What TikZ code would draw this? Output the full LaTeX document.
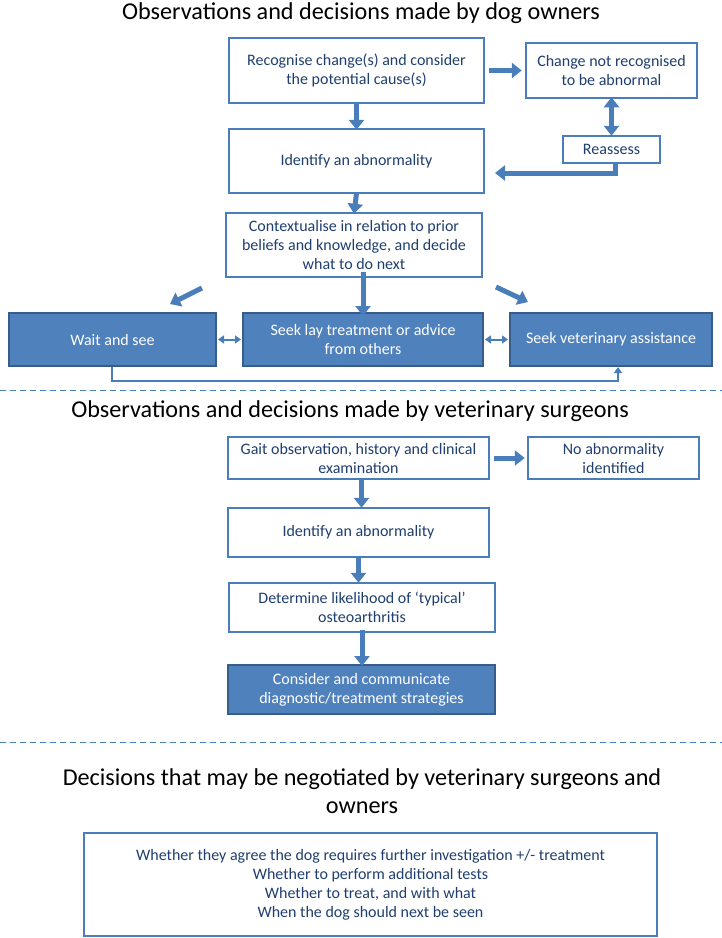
\documentclass[tikz,border=0pt]{standalone}
\usepackage{fontspec}
\setmainfont{Carlito}
\usetikzlibrary{arrows.meta}
\definecolor{bord}{HTML}{4A7EBB}
\definecolor{fillb}{HTML}{4F81BD}
\definecolor{dbord}{HTML}{385D8A}
\definecolor{txt}{HTML}{1F3F6F}
\begin{document}
\begin{tikzpicture}[x=1pt,y=-1pt,
  boxtext/.style={font=\fontsize{16}{19}\selectfont, align=center, inner sep=0pt},
  obox/.style={boxtext, draw=bord, line width=2.5pt, fill=white, text=txt},
  fbox/.style={boxtext, draw=dbord, line width=2pt, fill=fillb, text=white},
  title/.style={font=\fontsize{24.2}{29}\selectfont, text=black, align=center, inner sep=0pt},
  bigarrow/.style={draw=bord, line width=5pt, -{Triangle[width=15pt,length=10pt]}},
  bigdouble/.style={draw=bord, line width=5pt, {Triangle[width=15pt,length=10pt]}-{Triangle[width=15pt,length=10pt]}},
  thindouble/.style={draw=bord, line width=2pt, {Triangle[width=8pt,length=6pt]}-{Triangle[width=8pt,length=6pt]}},
  thinarrow/.style={draw=bord, line width=2pt, -{Triangle[width=8pt,length=6pt]}},
  sep/.style={draw=bord, line width=1pt, dash pattern=on 6pt off 4pt}
]
\useasboundingbox (0,0) rectangle (722,938);

% titles
\node[title, anchor=base] (t1) at (361,19) {Observations and decisions made by dog owners};
\node[title, anchor=base] (t2) at (350,417) {Observations and decisions made by veterinary surgeons};
\node[title, anchor=base] (t3a) at (362,785) {Decisions that may be negotiated by veterinary surgeons and};
\node[title, anchor=base] (t3b) at (362,813) {owners};

% owners section
\node[obox, minimum width=255, minimum height=65] (A) at (356.5,70.5) {Recognise change(s) and consider\\the potential cause(s)};
\node[obox, minimum width=171, minimum height=55] (B) at (611.5,70.5) {Change not recognised\\to be abnormal};
\node[obox, minimum width=97, minimum height=27] (R) at (611.5,149.5) {Reassess};
\node[obox, minimum width=255, minimum height=64] (C) at (356.5,161) {Identify an abnormality};
\node[obox, minimum width=256, minimum height=64] (D) at (354,245) {Contextualise in relation to prior\\beliefs and knowledge, and decide\\what to do next};
\node[fbox, minimum width=207, minimum height=53] (E) at (112.5,339.5) {Wait and see};
\node[fbox, minimum width=240, minimum height=53] (F) at (363,339.5) {Seek lay treatment or advice\\from others};
\node[fbox, minimum width=202, minimum height=53] (G) at (611,339.5) {Seek veterinary assistance};

\coordinate (dl1) at (202,288);
\coordinate (dl2) at (170,304);
\coordinate (dr1) at (496,287);
\coordinate (dr2) at (528,302);
\coordinate (elbow) at (615,173);
\coordinate (rtip) at (495,173);
\coordinate (low1) at (112,381);
\coordinate (low2) at (618,381);

\draw[bigarrow] ([xshift=4pt]A.east) -- ([xshift=-3pt]B.west);
\draw[bigarrow] ([yshift=2pt]A.south) -- ([yshift=-2pt]C.north);
\draw[bigdouble] ([yshift=2pt]B.south) -- ([yshift=-1pt]R.north);
\draw[bigarrow] (R.south -| elbow) -- (elbow) -- (rtip);
\draw[bigarrow] ([yshift=1pt]C.south) -- ([yshift=-2pt]D.north);
\draw[bigarrow] (dl1) -- (dl2);
\draw[bigarrow] ([shift={(9pt,6pt)}]D.south) -- ([shift={(9pt,-4pt)}]D.south |- F.north);
\draw[bigarrow] (dr1) -- (dr2);
\draw[thindouble] ([xshift=1pt]E.east) -- ([xshift=-1pt]F.west);
\draw[thindouble] ([xshift=1pt]F.east) -- ([xshift=-1pt]G.west);
\draw[thinarrow] (E.south -| low1) -- (low1) -- (low2) -- (G.south -| low2);

\draw[sep] (0,390) -- (722,390);

% vets section
\node[obox, minimum width=261, minimum height=42] (H) at (358.5,458) {Gait observation, history and clinical\\examination};
\node[obox, minimum width=171, minimum height=42] (I) at (613.5,458) {No abnormality\\identified};
\node[obox, minimum width=261, minimum height=49] (J) at (358.5,532.5) {Identify an abnormality};
\node[obox, minimum width=266, minimum height=49] (K) at (362,607.5) {Determine likelihood of ‘typical’\\osteoarthritis};
\node[fbox, minimum width=267, minimum height=49] (L) at (361.5,689.5) {Consider and communicate\\diagnostic/treatment strategies};

\draw[bigarrow] ([xshift=4pt]H.east) -- ([xshift=-2pt]I.west);
\draw[bigarrow] ([shift={(3pt,1pt)}]H.south) -- ([shift={(3pt,-1pt)}]H.south |- J.north);
\draw[bigarrow] ([yshift=1pt]J.south) -- ([yshift=-1pt]J.south |- K.north);
\draw[bigarrow] ([yshift=3pt]K.south) -- ([yshift=-2pt]K.south |- L.north);

\draw[sep] (0,742) -- (722,742);

% negotiated decisions
\node[obox, minimum width=573, minimum height=103] (M) at (370.5,884.5) {Whether they agree the dog requires further investigation +/- treatment\\Whether to perform additional tests\\Whether to treat, and with what\\When the dog should next be seen};
\end{tikzpicture}
\end{document}
